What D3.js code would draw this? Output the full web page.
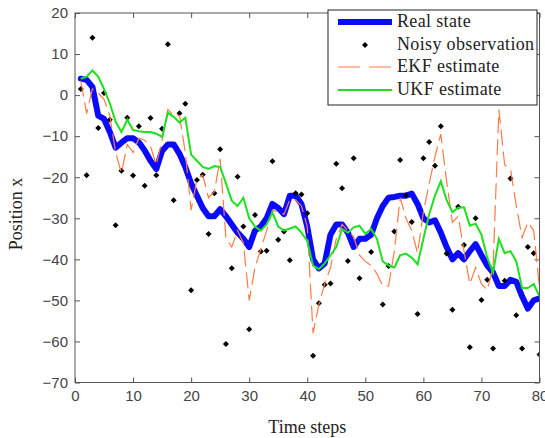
<!DOCTYPE html>
<html>
<head>
<meta charset="utf-8">
<script src="https://cdn.jsdelivr.net/npm/d3@7"></script>
<style>
  body { margin: 0; background: #fff; }
  svg { display: block; }
</style>
</head>
<body>
<svg id="chart" width="545" height="438"></svg>
<script>
// time steps 1..80
var steps = d3.range(1, 81);

var realState = [4, 3.7, 2, -5, -5.8, -9, -12.8, -11.6, -10.5, -10.5,
  -11.5, -13.5, -16, -18, -13.6, -12, -12, -14.3, -17.5, -21.5,
  -24.5, -27.5, -29.5, -29.5, -27.8, -29.5, -31.5, -33.5, -35, -37,
  -33, -32, -30, -26.5, -27.5, -29, -24.5, -24.5, -26.5, -32,
  -40, -42.2, -41, -34, -31.5, -31.5, -33.5, -37, -35, -35,
  -34, -30, -27, -25, -24.8, -24.5, -24.5, -24, -26.5, -30,
  -31, -30.5, -33.5, -37, -40, -38.5, -40, -38, -36.3, -39,
  -41.5, -43.2, -46.5, -46.5, -45, -45.5, -49, -52, -50, -49.5];

var ekfEstimate = [3.5, -4.5, 1.5, 0.5, -1, -5, -14, -19, -12, -14,
  -10.5, -11, -12.5, -17, -11, -3.5, -5, -5, -14, -28,
  -20.5, -19.5, -25, -23.5, -15.5, -35, -37, -33, -36, -50,
  -42, -37.5, -33, -28, -28.5, -29, -25.5, -25.5, -27, -32,
  -58, -51, -46, -42, -35, -31.5, -33, -34.5, -39, -40.5,
  -41.5, -43.5, -46.5, -46.5, -38, -25, -30, -33, -38.5, -28.5,
  -21.5, -15, -9.5, -21, -31, -29.5, -38, -46, -42, -46,
  -47.5, -42, -3.5, -17, -18, -27, -34.7, -31, -33, -47];

var ukfEstimate = [4, 4.5, 6, 4.5, 1.5, -2, -6.5, -9, -6, -8.5,
  -8.8, -9, -9, -9.4, -10.2, -4.3, -5.3, -6.7, -5.5, -14.5,
  -16, -17.5, -18, -17.3, -17.5, -21.5, -25.7, -27, -25, -30,
  -32, -33, -31.5, -28.6, -32, -33, -32.5, -32, -33.5, -35.5,
  -41.5, -42.4, -41, -39, -37, -32.6, -33.5, -32.2, -31.8, -33.8,
  -32.6, -35, -40.5, -41.5, -42, -39, -38.6, -39.6, -41.2, -35,
  -29, -24.5, -21, -25.5, -28.5, -27.4, -27.3, -31.8, -31.3, -34,
  -39.6, -43.2, -35, -38.5, -38, -40.5, -47, -47, -46, -49];

// noisy observations (a few steps fall outside the plotted range)
var obsSteps = [1, 2, 3, 4, 5, 6, 7, 8, 9, 10,
  11, 12, 13, 14, 15, 16, 17, 18, 19, 20,
  21, 22, 23, 24, 25, 26, 27, 28, 29, 30,
  31, 32, 33, 34, 35, 36, 37, 38, 39, 40,
  41, 42, 43, 44, 45, 46, 47, 48, 49, 51,
  53, 54, 55, 56, 57, 58, 59, 60, 61, 62,
  63, 64, 65, 66, 67, 68, 69, 70, 71, 72,
  74, 75, 76, 77, 78, 79, 80];
var obsValues = [1.5, -19.5, 14, -8, 0.5, -6, -31.7, -18.4, -5.5, -19.6,
  -7.6, -22.1, -5.6, -19.5, -8.2, 12.4, -25.6, -4.4, -2.1, -47.5,
  -20.7, -19.4, -33.8, -23.9, -13.2, -60.6, -42.2, -19.9, -32, -57,
  -29.2, -38.1, -37.9, -16.1, -35.2, -33.2, -40.2, -23.9, -24.2, -28.8,
  -63.5, -50.7, -46.2, -45.9, -16.7, -22.7, -40.4, -15.4, -44.6, -38.2,
  -51, -41.6, -33.2, -15.8, -24.4, -30.9, -53.3, -15.4, -11.4, -17.2,
  -7.6, -38.6, -52.3, -27.2, -36.5, -61.4, -30, -49.9, -45, -61.7,
  -45.2, -20.3, -53.6, -61.7, -37, -38.5, -63.2];

var xTicks = [0, 10, 20, 30, 40, 50, 60, 70, 80];
var yTicks = [-70, -60, -50, -40, -30, -20, -10, 0, 10, 20];
var legendLabels = ['Real state', 'Noisy observation', 'EKF estimate', 'UKF estimate'];

var pLeft = 75, pRight = 539.5, pTop = 13, pBottom = 382.5;

var x = d3.scaleLinear().domain([0, 80]).range([pLeft, pRight]);
var y = d3.scaleLinear().domain([-70, 20]).range([pBottom, pTop]);

var svg = d3.select('#chart');

svg.append('defs').append('clipPath')
  .attr('id', 'plotclip')
  .append('rect')
  .attr('x', pLeft).attr('y', pTop)
  .attr('width', pRight - pLeft).attr('height', pBottom - pTop);

var tickFont = '"Liberation Sans", Arial, sans-serif';
var serif = '"Liberation Serif", "Times New Roman", serif';

function styleAxis(g) {
  g.select('.domain').remove();
  g.selectAll('line').attr('stroke', '#555');
  g.selectAll('text')
    .attr('fill', '#444')
    .style('font-family', tickFont)
    .style('font-size', '15px');
}

svg.append('g')
  .attr('transform', 'translate(0,' + pBottom + ')')
  .call(d3.axisBottom(x).tickValues(xTicks).tickSizeInner(-5).tickSizeOuter(0).tickPadding(8))
  .call(styleAxis);

svg.append('g')
  .attr('transform', 'translate(0,' + pTop + ')')
  .call(d3.axisTop(x).tickValues(xTicks).tickSizeInner(-5).tickSizeOuter(0).tickFormat(''))
  .call(styleAxis);

svg.append('g')
  .attr('transform', 'translate(' + pLeft + ',0)')
  .call(d3.axisLeft(y).tickValues(yTicks).tickSizeInner(-5).tickSizeOuter(0).tickPadding(7))
  .call(styleAxis);

svg.append('g')
  .attr('transform', 'translate(' + pRight + ',0)')
  .call(d3.axisRight(y).tickValues(yTicks).tickSizeInner(-5).tickSizeOuter(0).tickFormat(''))
  .call(styleAxis);

var plot = svg.append('g').attr('clip-path', 'url(#plotclip)');

var line = d3.line()
  .x((d, i) => x(steps[i]))
  .y(d => y(d));

plot.append('path')
  .datum(realState)
  .attr('d', line)
  .attr('fill', 'none')
  .attr('stroke', '#0a0aff')
  .attr('stroke-width', 6)
  .attr('stroke-linejoin', 'round')
  .attr('stroke-linecap', 'round');

var diamond = d3.symbol().type(d3.symbolSquare).size(18);

plot.selectAll('.obs')
  .data(obsValues)
  .enter().append('path')
  .attr('class', 'obs')
  .attr('d', diamond)
  .attr('transform', (d, i) => 'translate(' + x(obsSteps[i]) + ',' + y(d) + ') rotate(45)')
  .attr('fill', '#000');

plot.append('path')
  .datum(ekfEstimate)
  .attr('d', line)
  .attr('fill', 'none')
  .attr('stroke', '#ff7a45')
  .attr('stroke-width', 1.2)
  .attr('stroke-dasharray', '16,6');

plot.append('path')
  .datum(ukfEstimate)
  .attr('d', line)
  .attr('fill', 'none')
  .attr('stroke', '#1ee01e')
  .attr('stroke-width', 2);

// frame
svg.append('rect')
  .attr('x', pLeft).attr('y', pTop)
  .attr('width', pRight - pLeft).attr('height', pBottom - pTop)
  .attr('fill', 'none')
  .attr('stroke', '#555')
  .attr('stroke-width', 1);

// legend
var lg = svg.append('g');
lg.append('rect')
  .attr('x', 328).attr('y', 10)
  .attr('width', 209).attr('height', 95)
  .attr('fill', '#fff')
  .attr('stroke', '#222')
  .attr('stroke-width', 1);

var rowY = [22, 45, 67, 90];

lg.append('line')
  .attr('x1', 338).attr('x2', 392).attr('y1', rowY[0]).attr('y2', rowY[0])
  .attr('stroke', '#0a0aff').attr('stroke-width', 6);
lg.append('path')
  .attr('d', diamond)
  .attr('transform', 'translate(365,' + rowY[1] + ') rotate(45)')
  .attr('fill', '#000');
lg.append('line')
  .attr('x1', 338).attr('x2', 392).attr('y1', rowY[2]).attr('y2', rowY[2])
  .attr('stroke', '#ff7a45').attr('stroke-width', 1.2)
  .attr('stroke-dasharray', '22,9');
lg.append('line')
  .attr('x1', 338).attr('x2', 392).attr('y1', rowY[3]).attr('y2', rowY[3])
  .attr('stroke', '#1ee01e').attr('stroke-width', 2);

lg.selectAll('.lt')
  .data(legendLabels)
  .enter().append('text')
  .attr('class', 'lt')
  .attr('x', 397)
  .attr('y', (d, i) => rowY[i] + 5)
  .attr('fill', '#222')
  .style('font-family', serif)
  .style('font-size', '18px')
  .style('letter-spacing', '0.35px')
  .text(d => d);

// axis titles
svg.append('text')
  .attr('x', (pLeft + pRight) / 2)
  .attr('y', 433)
  .attr('text-anchor', 'middle')
  .attr('fill', '#222')
  .style('font-family', serif)
  .style('font-size', '18px')
  .text('Time steps');

svg.append('text')
  .attr('transform', 'translate(22,214) rotate(-90)')
  .attr('text-anchor', 'middle')
  .attr('fill', '#222')
  .style('font-family', serif)
  .style('font-size', '18px')
  .text('Position x');
</script>
</body>
</html>
